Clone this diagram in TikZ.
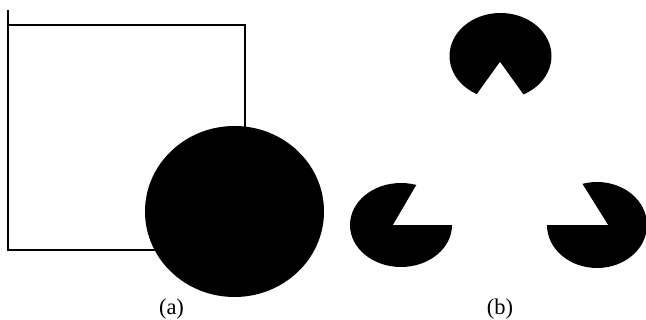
\documentclass[tikz,border=0pt]{standalone}
\usepackage{fontspec}
\setmainfont{Liberation Serif}
\begin{document}
\begin{tikzpicture}[x=1pt,y=-1pt,
    outline/.style={line width=1.8pt,line join=miter},
    blob/.style={fill=black},
    notch/.style={fill=white},
    caption/.style={font=\fontsize{22.5}{24}\selectfont}]
    \useasboundingbox (0,0) rectangle (646,320);
    % ---- panel a : square behind a disc ----
    \begin{scope}
      \draw[outline] (8,10) -- (8,250) -- (245,250) -- (245,25) -- (8,25);
      \fill[blob] (234.5,211.5) ellipse [x radius=89.5, y radius=85.5];
      \node[caption] (lbla) at (171.5,309) {(a)};
    \end{scope}
    % ---- panel b : three pacmen ----
    \begin{scope}
      % top
      \fill[blob] (500.5,56) ellipse [x radius=51, y radius=43];
      \fill[notch] (500,62) -- (454,126) -- (546,126) -- cycle;
      % bottom left
      \fill[blob] (401,225) ellipse [x radius=51, y radius=42];
      \fill[notch] (393,225) -- (470,225) -- (441,143) -- cycle;
      % bottom right
      \fill[blob] (597,225) ellipse [x radius=50, y radius=43];
      \fill[notch] (608,225) -- (525,225) -- (558,145) -- cycle;
      \node[caption] (lblb) at (500,309) {(b)};
    \end{scope}
\end{tikzpicture}
\end{document}
